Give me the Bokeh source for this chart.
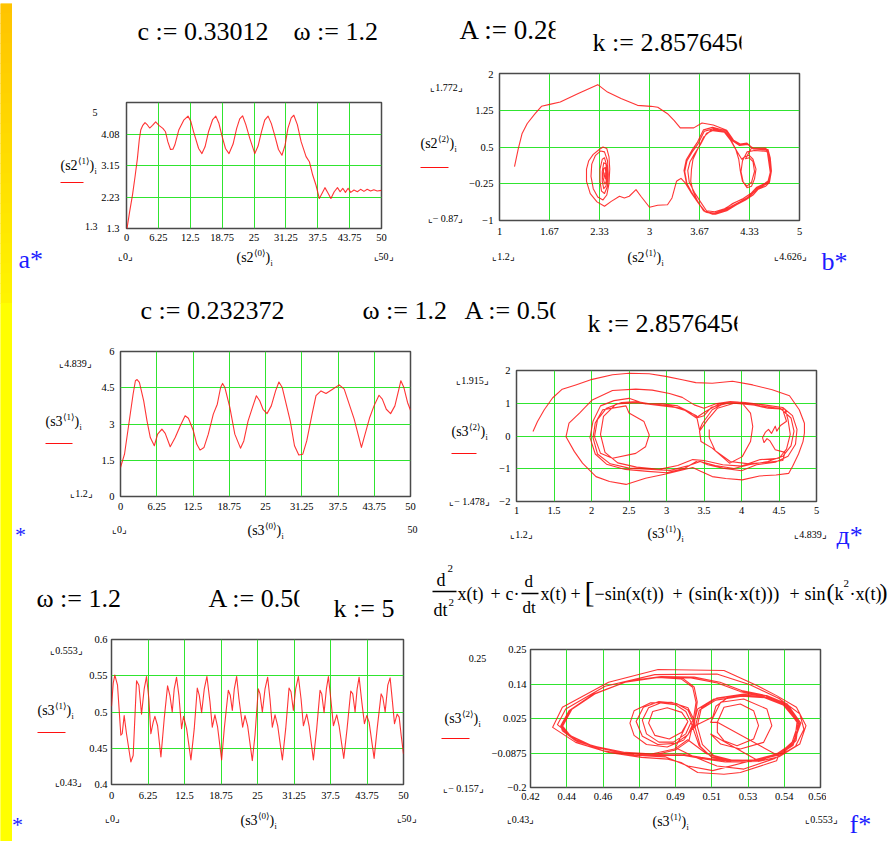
from bokeh.plotting import figure
from bokeh.models import Range1d, FixedTicker, ColumnDataSource
from bokeh.core.properties import value
from bokeh.layouts import row, column
from bokeh.embed import file_html
from bokeh.resources import INLINE

SERIF = "Liberation Serif"
RED = "#ff1010"
GREEN = "#30e430"
BLUE = "#1c1cff"

# ---------------------------------------------------------------
# Run 1:  c = 0.33012, omega = 1.2, A = 0.28, k = 2.8576456
# ---------------------------------------------------------------
a_t = [0, 0.6, 1.17, 1.7, 2.14, 2.5, 2.79, 3.2, 3.63, 4.1, 4.54, 5.1, 5.71, 6.36, 7.13,
       7.65, 8.1, 8.63, 9.1, 9.47, 10.25, 11.22, 12.06, 12.6, 13.16, 14.14, 14.79, 15.4,
       16.08, 16.9, 17.51, 18.1, 18.68, 19.4, 20.1, 20.9, 21.6, 22.2, 22.76, 23.4, 24.19,
       25.16, 25.8, 26.46, 27.1, 27.76, 28.4, 29.05, 29.8, 30.48, 31.1, 31.65, 32.3, 32.81,
       33.5, 34.24, 35.21, 35.86, 36.51, 37.16, 37.81, 38.33, 38.91, 39.56, 40.08, 40.73,
       41.37, 41.89, 42.41, 42.93, 43.45, 43.97, 44.6, 45.27, 45.9, 46.56, 47.2, 47.86,
       48.5, 49.16, 50]
a_x = [1.2, 1.78, 2.28, 2.85, 3.36, 3.90, 4.19, 4.33, 4.41, 4.34, 4.25, 4.33, 4.43, 4.33,
       4.24, 4.14, 3.85, 3.62, 3.63, 3.75, 4.19, 4.48, 4.60, 4.45, 4.14, 3.65, 3.50, 3.70,
       4.14, 4.50, 4.60, 4.40, 4.04, 3.65, 3.50, 3.78, 4.24, 4.52, 4.61, 4.35, 3.94, 3.50,
       3.72, 4.14, 4.48, 4.60, 4.38, 4.04, 3.62, 3.45, 3.75, 4.24, 4.55, 4.626, 4.35, 3.85,
       3.41, 3.26, 2.87, 2.57, 2.18, 2.33, 2.50, 2.33, 2.18, 2.38, 2.50, 2.38, 2.48, 2.36,
       2.48, 2.36, 2.43, 2.38, 2.45, 2.39, 2.45, 2.40, 2.44, 2.40, 2.42]

# phase plane (x, x')
b_arc = [(1.20, 0.10), (1.25, 0.46), (1.30, 0.77), (1.37, 0.98), (1.48, 1.19), (1.56, 1.33),
         (1.67, 1.37), (1.81, 1.42), (2.05, 1.59), (2.31, 1.772), (2.44, 1.62), (2.62, 1.49),
         (2.84, 1.35), (3.02, 1.33), (3.11, 1.31), (3.24, 1.18), (3.33, 1.04), (3.41, 0.89),
         (3.59, 0.89), (3.70, 0.99), (3.85, 0.95)]
b_right_1 = [(4.03, 0.84), (4.12, 0.64), (4.21, 0.56), (4.30, 0.58), (4.38, 0.47), (4.58, 0.45),
             (4.61, 0.28), (4.626, 0.01), (4.60, -0.22), (4.55, -0.30), (4.45, -0.36),
             (4.38, -0.48), (4.28, -0.58), (4.16, -0.68), (4.03, -0.80), (3.88, -0.87),
             (3.75, -0.83), (3.66, -0.66), (3.57, -0.45), (3.50, -0.25), (3.47, 0.0),
             (3.50, 0.22), (3.57, 0.40), (3.65, 0.57), (3.73, 0.82), (3.85, 0.87), (4.01, 0.81)]
b_right_2 = [(4.10, 0.60), (4.17, 0.40), (4.23, 0.25), (4.27, 0.30), (4.33, 0.33), (4.38, 0.25),
             (4.42, 0.05), (4.40, -0.15), (4.36, -0.30), (4.30, -0.33), (4.25, -0.22),
             (4.22, 0.0), (4.24, 0.22), (4.30, 0.40), (4.40, 0.43), (4.57, 0.41), (4.59, 0.20),
             (4.61, -0.02), (4.58, -0.20), (4.52, -0.26), (4.42, -0.34), (4.36, -0.44),
             (4.25, -0.55), (4.12, -0.65), (4.00, -0.76), (3.87, -0.82), (3.76, -0.80),
             (3.68, -0.62), (3.60, -0.43), (3.53, -0.22), (3.51, 0.02), (3.54, 0.20),
             (3.60, 0.36), (3.68, 0.55), (3.76, 0.78), (3.87, 0.85), (4.02, 0.79)]
b_right_3 = [(4.11, 0.62), (4.20, 0.53), (4.31, 0.55), (4.40, 0.46), (4.56, 0.46), (4.60, 0.27),
             (4.62, 0.0), (4.59, -0.21), (4.50, -0.28), (4.40, -0.38), (4.32, -0.52),
             (4.20, -0.62), (4.08, -0.72), (3.95, -0.82), (3.84, -0.87), (3.72, -0.80),
             (3.64, -0.60), (3.58, -0.40), (3.55, -0.20), (3.56, 0.05), (3.58, 0.25),
             (3.64, 0.45), (3.72, 0.70), (3.82, 0.84), (4.00, 0.80)]
b_right_4 = [(4.08, 0.64), (4.15, 0.45), (4.19, 0.25), (4.21, 0.02), (4.24, -0.20), (4.30, -0.30),
             (4.36, -0.22), (4.40, 0.0), (4.38, 0.20), (4.33, 0.28), (4.28, 0.26), (4.36, 0.48),
             (4.55, 0.48), (4.59, 0.30), (4.62, 0.03), (4.59, -0.18), (4.54, -0.24),
             (4.43, -0.32), (4.35, -0.45), (4.24, -0.56), (4.10, -0.66), (3.98, -0.79),
             (3.86, -0.85), (3.74, -0.82), (3.65, -0.64), (3.56, -0.42), (3.49, -0.22),
             (3.46, 0.02), (3.49, 0.24), (3.56, 0.42), (3.64, 0.60), (3.72, 0.85), (3.84, 0.90),
             (4.02, 0.83), (4.12, 0.62)]
b_right_5 = [(4.21, 0.55), (4.30, 0.57), (4.38, 0.46), (4.57, 0.44), (4.61, 0.26), (4.62, 0.0),
             (4.60, -0.21), (4.53, -0.28), (4.43, -0.37), (4.36, -0.47), (4.26, -0.58),
             (4.13, -0.69), (4.00, -0.80), (3.86, -0.86), (3.73, -0.81), (3.64, -0.62),
             (3.55, -0.42), (3.47, -0.22), (3.42, -0.14), (3.39, -0.17)]
b_escape = [(3.36, -0.20), (3.30, -0.54), (3.24, -0.68), (3.11, -0.69), (3.00, -0.73),
            (2.885, -0.505), (2.82, -0.37), (2.73, -0.505), (2.665, -0.54), (2.60, -0.505),
            (2.49, -0.61), (2.40, -0.71)]
b_left = [(2.30, -0.62), (2.21, -0.45), (2.16, -0.20), (2.16, 0.05), (2.19, 0.22), (2.25, 0.35),
          (2.33, 0.45), (2.38, 0.50), (2.43, 0.47), (2.46, 0.30), (2.47, 0.05), (2.46, -0.25),
          (2.43, -0.48), (2.38, -0.58), (2.31, -0.52), (2.25, -0.35), (2.22, -0.10),
          (2.23, 0.15), (2.28, 0.33), (2.35, 0.42), (2.40, 0.40), (2.44, 0.22), (2.45, -0.05),
          (2.44, -0.30), (2.40, -0.45), (2.36, -0.40), (2.34, -0.20), (2.34, 0.05), (2.37, 0.25),
          (2.40, 0.28), (2.43, 0.12), (2.44, -0.10), (2.42, -0.30), (2.39, -0.35), (2.37, -0.20),
          (2.37, 0.0), (2.39, 0.18), (2.42, 0.15), (2.43, -0.05), (2.42, -0.22), (2.40, -0.25),
          (2.38, -0.12), (2.39, 0.06), (2.41, 0.08), (2.42, -0.05), (2.41, -0.15), (2.40, -0.10),
          (2.405, -0.02)]
b_path = b_arc + b_right_1 + b_right_2 + b_right_3 + b_right_4 + b_right_5 + b_escape + b_left

# ---------------------------------------------------------------
# Run 2:  c = 0.232372, omega = 1.2, A = 0.50, k = 2.8576456
# ---------------------------------------------------------------
c_t = [0, 0.69, 1.43, 2.17, 2.57, 2.86, 3.26, 4.0, 4.57, 5.14, 5.83, 6.4, 7.14, 7.71, 8.57,
       9.43, 10.29, 11.14, 11.71, 12.57, 13.14, 13.71, 14.4, 15.14, 16.0, 16.69, 17.26, 17.6,
       18.0, 18.86, 19.71, 20.69, 21.26, 22.0, 22.74, 23.43, 24.0, 24.57, 25.26, 26.0, 26.74,
       27.31, 27.89, 28.57, 29.26, 30.0, 30.74, 31.43, 32.11, 33.03, 33.71, 34.57, 35.43,
       36.57, 37.71, 38.57, 39.43, 40.29, 41.03, 41.54, 42.17, 42.97, 43.71, 44.57, 45.14,
       45.83, 46.57, 47.31, 48.0, 48.34, 48.86, 49.49, 50]
c_x = [1.2, 1.75, 2.99, 4.23, 4.79, 4.839, 4.72, 3.96, 3.13, 2.44, 2.10, 2.58, 2.79, 2.61, 2.06,
       2.44, 2.92, 3.34, 3.24, 2.72, 2.17, 1.92, 2.03, 2.58, 3.41, 3.82, 4.51, 4.68, 4.51, 3.68,
       2.58, 2.0, 2.30, 3.13, 3.68, 4.17, 3.96, 3.61, 3.43, 3.75, 4.37, 4.74, 4.51, 3.82, 3.13,
       2.10, 1.72, 1.75, 2.30, 3.41, 4.17, 4.37, 4.26, 4.44, 4.62, 4.44, 3.82, 3.2, 2.51, 2.03,
       2.58, 3.27, 3.75, 4.19, 4.03, 3.61, 3.43, 3.75, 4.44, 4.79, 4.51, 3.89, 3.57]

d_arc = [(1.22, 0.14), (1.28, 0.44), (1.37, 0.80), (1.48, 1.16), (1.61, 1.43), (1.79, 1.56),
         (2.01, 1.73), (2.28, 1.87), (2.50, 1.915), (2.77, 1.90), (2.99, 1.82), (3.21, 1.72),
         (3.39, 1.63), (3.61, 1.61), (3.88, 1.67), (4.15, 1.56), (4.41, 1.41), (4.64, 1.23),
         (4.77, 0.80), (4.839, 0.39), (4.839, 0.09), (4.82, -0.17), (4.76, -0.55), (4.68, -0.93),
         (4.63, -1.14), (4.46, -1.19), (4.24, -1.22), (4.01, -1.34), (3.79, -1.30), (3.61, -1.24),
         (3.44, -1.06), (3.35, -0.96), (3.17, -1.06), (2.99, -1.16), (2.72, -1.29), (2.46, -1.478),
         (2.24, -1.39), (2.06, -1.24), (1.88, -0.83), (1.77, -0.47), (1.66, -0.02)]
d_loop_2 = [(1.70, 0.39), (1.84, 0.70), (2.01, 1.10), (2.28, 1.39), (2.59, 1.43), (2.81, 1.40),
            (3.04, 1.30), (3.21, 1.18), (3.37, 0.95), (3.50, 0.85), (3.65, 0.98), (3.85, 1.05),
            (4.05, 1.02), (4.30, 0.95), (4.55, 0.87), (4.68, 0.62), (4.74, 0.20), (4.72, -0.25),
            (4.62, -0.62), (4.45, -0.80), (4.20, -0.88), (4.00, -1.06), (3.75, -0.98),
            (3.55, -0.88), (3.42, -0.75), (3.25, -0.98), (3.00, -1.12), (2.75, -1.08),
            (2.45, -1.02), (2.20, -0.86), (2.05, -0.55), (1.98, -0.05), (2.02, 0.45), (2.12, 0.92)]
d_both_1 = [(2.30, 1.08), (2.50, 1.15), (2.72, 0.98), (2.95, 0.98), (3.15, 0.92), (3.32, 0.72),
            (3.41, 0.58), (3.52, 0.75), (3.70, 0.98), (3.95, 1.04), (4.25, 0.92), (4.52, 0.84),
            (4.66, 0.55), (4.70, 0.15), (4.66, -0.30), (4.55, -0.62), (4.35, -0.78), (4.10, -0.88),
            (3.90, -0.99), (3.65, -0.90), (3.45, -0.78), (3.30, -0.90), (3.05, -1.05),
            (2.80, -1.02), (2.50, -0.98), (2.25, -0.85), (2.08, -0.55), (2.02, -0.05),
            (2.05, 0.40), (2.15, 0.80)]
d_left = [(2.28, 0.85), (2.46, 0.92), (2.50, 0.70), (2.70, 0.44), (2.77, 0.03), (2.72, -0.33),
          (2.59, -0.53), (2.28, -0.68), (2.12, -0.53), (2.04, -0.02), (2.08, 0.50), (2.20, 0.85)]
d_both_2 = [(2.40, 1.02), (2.60, 1.05), (2.85, 0.95), (3.05, 0.92), (3.25, 0.78), (3.40, 0.55),
            (3.50, 0.62), (3.60, 0.88), (3.85, 1.02), (4.10, 0.98), (4.35, 0.85), (4.58, 0.82),
            (4.62, 0.50), (4.65, 0.05), (4.60, -0.40), (4.50, -0.68), (4.25, -0.72),
            (4.00, -0.92), (3.75, -0.88), (3.50, -0.75), (3.35, -0.72), (3.15, -0.90),
            (2.90, -1.02), (2.60, -0.95), (2.35, -0.82), (2.18, -0.50), (2.12, 0.05),
            (2.16, 0.60), (2.33, 0.98), (2.60, 1.02), (2.90, 0.93), (3.20, 0.85), (3.40, 0.62)]
d_right = [(3.44, 0.19), (3.48, 0.39), (3.61, 0.80), (3.79, 1.02), (4.01, 1.00), (4.12, 0.70),
           (4.15, 0.29), (4.12, -0.17), (4.01, -0.63), (3.84, -0.83), (3.61, -0.37),
           (3.46, -0.17), (3.44, 0.15)]
d_right_2 = [(3.55, 0.50), (3.68, 0.85), (3.90, 1.00), (4.15, 0.95), (4.40, 0.88), (4.55, 0.80),
             (4.60, 0.45), (4.52, 0.32), (4.47, 0.15), (4.45, 0.30), (4.40, 0.08), (4.36, 0.20),
             (4.32, 0.12), (4.28, -0.05), (4.30, -0.20), (4.34, -0.08), (4.38, -0.15),
             (4.45, -0.42), (4.58, -0.50), (4.55, -0.75), (4.35, -0.80), (4.10, -0.85),
             (3.85, -0.78), (3.65, -0.45), (3.57, -0.05), (3.57, 0.20)]
d_path = d_arc + d_loop_2 + d_both_1 + d_left + d_both_2 + d_right + d_right_2

# ---------------------------------------------------------------
# Run 3:  omega = 1.2, A = 0.50, k = 5
# ---------------------------------------------------------------
e_pts = [(0.0, 0.508), (0.3, 0.54), (0.57, 0.551), (1.03, 0.537), (1.6, 0.468), (1.83, 0.470),
         (2.17, 0.495), (2.57, 0.470), (3.31, 0.431), (3.71, 0.440), (4.29, 0.543), (4.69, 0.537),
         (5.14, 0.497), (5.6, 0.532), (6.0, 0.549), (6.4, 0.518), (6.74, 0.470), (7.14, 0.486),
         (7.43, 0.494), (7.89, 0.481), (8.46, 0.438), (9.03, 0.491), (9.6, 0.536), (10.0, 0.523),
         (10.4, 0.500), (10.74, 0.532), (11.14, 0.548), (11.54, 0.523), (12.0, 0.477),
         (12.34, 0.494), (12.86, 0.477), (13.6, 0.434), (14.17, 0.477), (14.69, 0.533),
         (15.03, 0.523), (15.43, 0.499), (15.89, 0.532), (16.34, 0.549), (16.86, 0.514),
         (17.26, 0.479), (17.71, 0.496), (18.17, 0.479), (18.86, 0.434), (19.31, 0.477),
         (20.0, 0.530), (20.34, 0.523), (20.69, 0.502), (21.03, 0.532), (21.43, 0.549),
         (21.83, 0.518), (22.46, 0.479), (22.86, 0.495), (23.31, 0.481), (24.11, 0.433),
         (24.57, 0.468), (25.14, 0.532), (25.43, 0.525), (25.83, 0.500), (26.29, 0.532),
         (26.74, 0.548), (27.14, 0.518), (27.54, 0.479), (28.0, 0.496), (28.46, 0.481),
         (29.26, 0.434), (29.83, 0.477), (30.4, 0.533), (30.74, 0.528), (31.14, 0.502),
         (31.54, 0.532), (32.0, 0.549), (32.46, 0.518), (32.86, 0.481), (33.43, 0.497),
         (33.83, 0.481), (34.57, 0.434), (35.14, 0.477), (35.71, 0.530), (36.0, 0.525),
         (36.4, 0.499), (36.8, 0.532), (37.14, 0.549), (37.6, 0.514), (38.0, 0.481),
         (38.57, 0.496), (38.97, 0.481), (39.77, 0.436), (40.34, 0.477), (40.97, 0.529),
         (41.31, 0.525), (41.71, 0.500), (42.06, 0.532), (42.4, 0.548), (42.86, 0.514),
         (43.31, 0.484), (43.71, 0.495), (44.11, 0.486), (44.97, 0.436), (45.49, 0.477),
         (46.17, 0.525), (46.46, 0.520), (46.86, 0.500), (47.31, 0.537), (47.71, 0.547),
         (48.11, 0.514), (48.46, 0.484), (48.91, 0.497), (49.26, 0.493), (49.6, 0.468),
         (50.0, 0.442)]

f_start = [(0.508, 0.030), (0.5095, 0.065), (0.5150, 0.092), (0.5230, 0.100), (0.5340, 0.095),
           (0.5440, 0.068), (0.5500, 0.008), (0.5465, -0.060), (0.5390, -0.094)]
f_right_a = [(0.5293, -0.1106), (0.5166, -0.1128), (0.5070, -0.0987), (0.5014, -0.0638),
             (0.4983, -0.0039), (0.5007, 0.0561), (0.5086, 0.0887), (0.5213, 0.1018),
             (0.5325, 0.0974), (0.5428, 0.0692), (0.5492, 0.0070), (0.5460, -0.0584),
             (0.5388, -0.0910)]
f_right_b = [(0.5300, -0.1150), (0.5170, -0.1170), (0.5075, -0.1020), (0.5020, -0.0660),
             (0.4995, -0.0050), (0.5015, 0.0520), (0.5095, 0.0850), (0.5220, 0.0980),
             (0.5330, 0.0930), (0.5435, 0.0650), (0.5500, 0.0050), (0.5468, -0.0620),
             (0.5395, -0.0950)]
f_right_c = [(0.5305, -0.1100), (0.5180, -0.1120), (0.5085, -0.0960), (0.5030, -0.0600),
             (0.5005, 0.0000), (0.5025, 0.0600), (0.5100, 0.0920), (0.5230, 0.1050),
             (0.5340, 0.1000), (0.5440, 0.0720), (0.5505, 0.0100), (0.5470, -0.0560),
             (0.5400, -0.0900)]
f_big_a = [(0.5293, -0.1106), (0.5134, -0.1128), (0.5022, -0.1019), (0.4927, -0.0910),
           (0.4816, -0.0921), (0.4657, -0.0856), (0.4497, -0.0638), (0.4386, -0.0289),
           (0.4346, 0.0016), (0.4386, 0.0506), (0.4497, 0.1018), (0.4657, 0.1432),
           (0.4816, 0.1596), (0.4975, 0.1574), (0.5102, 0.1410), (0.5213, 0.1127),
           (0.5325, 0.0974), (0.5420, 0.0692), (0.5487, 0.0147), (0.5476, -0.0442),
           (0.5412, -0.0834)]
f_big_b = [(0.5300, -0.1150), (0.5140, -0.1170), (0.5030, -0.1060), (0.4935, -0.0950),
           (0.4820, -0.0960), (0.4660, -0.0890), (0.4505, -0.0670), (0.4395, -0.0330),
           (0.4355, 0.0000), (0.4400, 0.0550), (0.4510, 0.1050), (0.4670, 0.1470),
           (0.4830, 0.1620), (0.4990, 0.1600), (0.5115, 0.1430), (0.5225, 0.1150),
           (0.5335, 0.1000), (0.5430, 0.0720), (0.5495, 0.0170), (0.5482, -0.0470),
           (0.5420, -0.0880)]
f_outer_a = [(0.5388, -0.1128), (0.5213, -0.1510), (0.5134, -0.1570), (0.5007, -0.1510),
             (0.4927, -0.1183), (0.4863, -0.1074), (0.4736, -0.1019), (0.4577, -0.0856),
             (0.4418, -0.0529), (0.4307, -0.0039), (0.4354, 0.0615), (0.4577, 0.1432),
             (0.4816, 0.1846), (0.5134, 0.1814), (0.5293, 0.1323), (0.5388, 0.0996),
             (0.5484, 0.0615), (0.5530, 0.0016), (0.5500, -0.0583), (0.5400, -0.1000)]
f_to_left = [(0.5300, -0.1120), (0.5150, -0.1100), (0.5050, -0.0900)]
f_left_a = [(0.4959, -0.0442), (0.4895, -0.0747), (0.4784, -0.0910), (0.4657, -0.0856),
            (0.4529, -0.0692), (0.4418, -0.0474), (0.4354, -0.0148), (0.4346, 0.0016),
            (0.4386, 0.0506), (0.4497, 0.1018), (0.4657, 0.1432), (0.4816, 0.1585),
            (0.4927, 0.1541), (0.4983, 0.1269), (0.4999, 0.0778), (0.4988, 0.0288),
            (0.4983, -0.0039)]
f_left_b = [(0.4965, -0.0470), (0.4900, -0.0780), (0.4790, -0.0950), (0.4660, -0.0900),
            (0.4535, -0.0720), (0.4425, -0.0500), (0.4362, -0.0170), (0.4352, 0.0030),
            (0.4395, 0.0540), (0.4505, 0.1050), (0.4665, 0.1460), (0.4825, 0.1610),
            (0.4935, 0.1560), (0.4990, 0.1280), (0.5005, 0.0790), (0.4995, 0.0300),
            (0.4990, -0.0060)]
f_mid_a = [(0.4975, 0.0125), (0.4950, 0.0480), (0.4900, 0.0700), (0.4830, 0.0760),
           (0.4770, 0.0600), (0.4740, 0.0200), (0.4760, -0.0250), (0.4820, -0.0520),
           (0.4890, -0.0520), (0.4950, -0.0250), (0.4975, 0.0125)]
f_mid_b = [(0.4985, 0.0150), (0.4960, 0.0530), (0.4905, 0.0740), (0.4820, 0.0800),
           (0.4745, 0.0620), (0.4710, 0.0150), (0.4740, -0.0330), (0.4815, -0.0600),
           (0.4900, -0.0560), (0.4960, -0.0280), (0.4985, 0.0100)]
f_mid_c = [(0.4990, 0.0200), (0.4960, 0.0600), (0.4880, 0.0780), (0.4780, 0.0760),
           (0.4700, 0.0500), (0.4680, 0.0100), (0.4700, -0.0300), (0.4760, -0.0600),
           (0.4860, -0.0680), (0.4940, -0.0450), (0.4990, 0.0000)]
f_mid_d = [(0.4960, 0.0150), (0.4930, 0.0450), (0.4860, 0.0600), (0.4790, 0.0480),
           (0.4770, 0.0100), (0.4800, -0.0300), (0.4870, -0.0420), (0.4930, -0.0200),
           (0.4960, 0.0150)]
f_inner_a = [(0.5102, 0.0125), (0.5134, 0.0615), (0.5213, 0.0724), (0.5277, 0.0506),
             (0.5301, 0.0016), (0.5277, -0.0420), (0.5197, -0.0638), (0.5134, -0.0474),
             (0.5102, -0.0202), (0.5102, 0.0125)]
f_inner_b = [(0.5070, 0.0125), (0.5118, 0.0778), (0.5229, 0.0887), (0.5341, 0.0561),
             (0.5365, 0.0016), (0.5325, -0.0529), (0.5213, -0.0747), (0.5118, -0.0583),
             (0.5070, -0.0256)]
f_outer_b = [(0.5080, -0.1450), (0.4960, -0.1300), (0.4850, -0.1000), (0.4700, -0.0950),
             (0.4550, -0.0800), (0.4420, -0.0450), (0.4330, 0.0050), (0.4370, 0.0560),
             (0.4560, 0.1300), (0.4800, 0.1680), (0.5100, 0.1700), (0.5260, 0.1350),
             (0.5400, 0.0900), (0.5500, 0.0400), (0.5520, -0.0100), (0.5480, -0.0650),
             (0.5380, -0.1050), (0.5230, -0.1400)]
f_end = [(0.5100, -0.1300), (0.4990, -0.1000), (0.4900, -0.0700)]
f_path = (f_start + f_right_a + f_right_b + f_big_a + f_right_c + f_outer_a + f_big_b
          + f_to_left + f_left_a + f_mid_a + f_mid_b + f_left_b + f_mid_c + f_start
          + f_inner_a + f_inner_b + f_right_a + f_outer_b + f_end + f_mid_d)

# axis ticks and their printed labels
ticks_t = [0, 6.25, 12.5, 18.75, 25, 31.25, 37.5, 43.75, 50]
labels_t = ["0", "6.25", "12.5", "18.75", "25", "31.25", "37.5", "43.75", "50"]
a_yticks = [1.3, 2.225, 3.15, 4.075, 5]
a_ylabels = ["1.3", "2.23", "3.15", "4.08", ""]
b_xticks = [1, 5 / 3, 7 / 3, 3, 11 / 3, 13 / 3, 5]
b_xlabels = ["1", "1.67", "2.33", "3", "3.67", "4.33", "5"]
b_yticks = [-1, -0.25, 0.5, 1.25, 2]
b_ylabels = ["\u22121", "\u22120.25", "0.5", "1.25", "2"]
c_yticks = [0, 1.5, 3, 4.5, 6]
c_ylabels = ["0", "1.5", "3", "4.5", "6"]
d_xticks = [1, 1.5, 2, 2.5, 3, 3.5, 4, 4.5, 5]
d_xlabels = ["1", "1.5", "2", "2.5", "3", "3.5", "4", "4.5", "5"]
d_yticks = [-2, -1, 0, 1, 2]
d_ylabels = ["\u22122", "\u22121", "0", "1", "2"]
e_yticks = [0.4, 0.45, 0.5, 0.55, 0.6]
e_ylabels = ["0.4", "0.45", "0.5", "0.55", "0.6"]
f_xticks = [0.42, 0.4375, 0.455, 0.4725, 0.49, 0.5075, 0.525, 0.5425, 0.56]
f_xlabels = ["0.42", "0.44", "0.46", "0.47", "0.49", "0.51", "0.53", "0.54", "0.56"]
f_yticks = [-0.2, -0.0875, 0.025, 0.1375, 0.25]
f_ylabels = ["\u22120.2", "\u22120.0875", "0.025", "0.14", "0.25"]

# ---------------------------------------------------------------
# page texts (page pixels, y downwards): text, x, y, size, colour, align
# ---------------------------------------------------------------
texts = [
    ("c := 0.33012", 137, 31, 26, "black", "left"),
    ("\u03c9 := 1.2", 293, 31, 26, "black", "left"),
    ("A := 0.28", 459, 29, 27, "black", "left"),
    ("k := 2.8576456", 592, 42, 26, "black", "left"),
    ("5", 97, 112, 10, "black", "right"),
    ("1.3", 97, 226, 10, "black", "right"),
    ("\u231e0\u231f", 125, 256, 10, "black", "center"),
    ("\u231e50\u231f", 383, 256, 10, "black", "center"),
    ("a*", 18, 259, 26, BLUE, "left"),
    ("\u231e1.772\u231f", 446, 87, 10, "black", "center"),
    ("\u231e\u2212 0.87\u231f", 445, 218, 10, "black", "center"),
    ("\u231e1.2\u231f", 503, 256, 10, "black", "center"),
    ("\u231e4.626\u231f", 790, 256, 10, "black", "center"),
    ("b*", 821, 261, 26, BLUE, "left"),
    ("c := 0.232372", 140, 310, 26, "black", "left"),
    ("\u03c9 := 1.2", 362, 310, 26, "black", "left"),
    ("A := 0.50", 464, 310, 26, "black", "left"),
    ("k := 2.8576456", 587, 323, 26, "black", "left"),
    ("\u231e4.839\u231f", 75, 363, 10, "black", "center"),
    ("\u231e1.2\u231f", 81, 493, 10, "black", "center"),
    ("\u231e0\u231f", 119, 529, 10, "black", "center"),
    ("50", 412, 529, 10, "black", "center"),
    ("*", 20, 534, 22, BLUE, "center"),
    ("\u231e1.915\u231f", 472, 380, 10, "black", "center"),
    ("\u231e\u2212 1.478\u231f", 469, 501, 10, "black", "center"),
    ("\u231e1.2\u231f", 521, 534, 10, "black", "center"),
    ("\u231e4.839\u231f", 810, 534, 10, "black", "center"),
    ("\u0434*", 836, 535, 26, BLUE, "left"),
    ("\u03c9 := 1.2", 36, 598, 26, "black", "left"),
    ("A := 0.50", 208, 598, 26, "black", "left"),
    ("k := 5", 333, 608, 26, "black", "left"),
    ("\u231e0.553\u231f", 66, 650, 10, "black", "center"),
    ("\u231e0.43\u231f", 68, 782, 10, "black", "center"),
    ("\u231e0\u231f", 112, 818, 10, "black", "center"),
    ("\u231e50\u231f", 406, 818, 10, "black", "center"),
    ("*", 17, 824, 22, BLUE, "center"),
    ("0.25", 477, 658, 10, "black", "center"),
    ("\u231e\u2212 0.157\u231f", 463, 788, 10, "black", "center"),
    ("\u231e0.43\u231f", 520, 819, 10, "black", "center"),
    ("\u231e0.553\u231f", 821, 819, 10, "black", "center"),
    ("f*", 849, 824, 26, BLUE, "left"),
    # equation of motion
    ("d", 436, 579, 18, "black", "left"), ("2", 447, 568, 11, "black", "left"),
    ("dt", 433, 609, 18, "black", "left"), ("2", 448, 602, 11, "black", "left"),
    ("x(t)", 457, 593, 18, "black", "left"), ("+", 490, 593, 18, "black", "left"),
    ("c\u00b7", 505, 593, 18, "black", "left"), ("d", 524, 581, 17, "black", "left"),
    ("dt", 522, 607, 17, "black", "left"), ("x(t)", 540, 593, 18, "black", "left"),
    ("+", 570, 593, 18, "black", "left"), ("[", 584, 591, 30, "black", "left"),
    ("\u2212sin(x(t))", 594, 593, 18, "black", "left"), ("+", 672, 593, 18, "black", "left"),
    ("(sin(k\u00b7x(t)))", 688, 593, 19, "black", "left"), ("+", 789, 593, 18, "black", "left"),
    ("sin", 804, 593, 18, "black", "left"), ("(", 826, 591, 24, "black", "left"),
    ("k", 834, 593, 18, "black", "left"), ("2", 843, 583, 11, "black", "left"),
    ("\u00b7x(t)", 849, 593, 18, "black", "left"), (")", 879, 591, 24, "black", "left"),
]

# "(name<idx>)_i" axis captions: name, idx, x, y
captions = [("s2", "1", 60, 165), ("s2", "0", 236, 257), ("s2", "2", 420, 143),
            ("s2", "1", 627, 257), ("s3", "1", 45, 421), ("s3", "0", 247, 530),
            ("s3", "2", 451, 431), ("s3", "1", 647, 533), ("s3", "1", 37, 710),
            ("s3", "0", 240, 820), ("s3", "2", 444, 718), ("s3", "1", 652, 821)]
for name, idx, X, Y in captions:
    texts += [("(" + name, X, Y, 14, "black", "left"),
              ("\u27e8" + idx + "\u27e9", X + 17, Y - 5, 9, "black", "left"),
              (")", X + 29, Y, 14, "black", "left"),
              ("i", X + 34, Y + 6, 8, "black", "left")]

# short rules: red legend keys and fraction bars (x0, x1, y, colour, width)
rules = [(60, 83, 182, RED, 1), (420, 448, 167, RED, 1), (45, 72, 443, RED, 1),
         (451, 476, 453, RED, 1), (37, 65, 732, RED, 1), (441, 469, 738, RED, 1),
         (432, 456, 591, "black", 1.3), (521, 538, 593, "black", 1.3)]
# white masks that cut off the clipped assignment regions (x0, x1, y0, y1)
masks = [(555, 590, 10, 48), (741, 830, 24, 62), (555, 585, 292, 329),
         (737, 830, 304, 343), (299, 330, 579, 617)]


def text_panel(x0, y0, x1, y1):
    p = figure(width=x1 - x0, height=y1 - y0, output_backend="svg", toolbar_location=None,
               title=None, x_range=Range1d(x0, x1), y_range=Range1d(y1, y0),
               x_axis_location=None, y_axis_location=None, min_border=0,
               outline_line_color=None)
    p.grid.visible = False
    p.background_fill_color = "white"
    p.border_fill_color = "white"
    mine = [t for t in texts if x0 <= t[1] < x1 and y0 <= t[2] < y1]
    if mine:
        src = ColumnDataSource(dict(
            x=[t[1] for t in mine], y=[t[2] for t in mine], text=[t[0] for t in mine],
            tsize=["%dpx" % t[3] for t in mine], tcolor=[t[4] for t in mine],
            talign=[t[5] for t in mine]))
        p.text(x="x", y="y", text="text", source=src, text_font=value(SERIF),
               text_font_size="tsize", text_color="tcolor", text_align="talign",
               text_baseline=value("middle"))
    rl = [r for r in rules if x0 <= r[0] < x1 and y0 <= r[2] < y1]
    if rl:
        src = ColumnDataSource(dict(x0=[r[0] for r in rl], x1=[r[1] for r in rl],
                                    y=[r[2] for r in rl], c=[r[3] for r in rl],
                                    w=[r[4] for r in rl]))
        p.segment(x0="x0", y0="y", x1="x1", y1="y", source=src, line_color="c",
                  line_width="w")
    mk = [m for m in masks if x0 <= m[0] < x1 and y0 <= m[2] < y1]
    if mk:
        src = ColumnDataSource(dict(l=[m[0] for m in mk], r=[m[1] for m in mk],
                                    t=[m[2] for m in mk], b=[m[3] for m in mk]))
        p.quad(left="l", right="r", top="t", bottom="b", source=src, fill_color="white",
               line_color=None)
    return column(p)


def plot_panel(cell, frame, xr, yr, xt, xl, yt, yl, xs=5, ys=6):
    x0, y0, x1, y1 = cell
    fl, ft, fr, fb = frame
    p = figure(width=x1 - x0, height=y1 - y0, output_backend="svg", toolbar_location=None,
               title=None, x_range=Range1d(*xr), y_range=Range1d(*yr),
               min_border_left=fl - x0, min_border_right=x1 - fr,
               min_border_top=ft - y0, min_border_bottom=y1 - fb)
    p.background_fill_color = "white"
    p.border_fill_color = "white"
    p.outline_line_color = "#4a4a4a"
    p.outline_line_width = 1.5
    p.xaxis.ticker = FixedTicker(ticks=xt)
    p.yaxis.ticker = FixedTicker(ticks=yt)
    p.xgrid.ticker = FixedTicker(ticks=xt)
    p.ygrid.ticker = FixedTicker(ticks=yt)
    p.xaxis.major_label_overrides = dict(zip(xt, xl))
    p.yaxis.major_label_overrides = dict(zip(yt, yl))
    for ax in (p.xaxis, p.yaxis):
        ax.axis_line_color = None
        ax.major_tick_in = 0
        ax.major_tick_out = 0
        ax.minor_tick_in = 0
        ax.minor_tick_out = 0
        ax.major_label_text_font = SERIF
        ax.major_label_text_font_size = "10.5px"
        ax.major_label_text_color = "black"
    p.xaxis.major_label_standoff = xs
    p.yaxis.major_label_standoff = ys
    for g in (p.xgrid, p.ygrid):
        g.grid_line_color = GREEN
        g.grid_line_width = 1
    return p


def trace(p, x, y):
    p.line(x, y, line_color=RED, line_width=1.1, line_alpha=0.85, line_join="round")
    return column(p)


# ---------------- row 1 ----------------
pa = plot_panel((98, 70, 392, 245), (124, 102, 381, 228), (0, 50), (1.3, 5),
                ticks_t, labels_t, a_yticks, a_ylabels, ys=7)
pb = plot_panel((466, 70, 806, 245), (496, 73, 799, 220), (1, 5), (-1, 2),
                b_xticks, b_xlabels, b_yticks, b_ylabels, xs=7, ys=6)
row1 = column(text_panel(12, 3, 888, 70),
              row(text_panel(12, 70, 98, 245), trace(pa, a_t, a_x),
                  text_panel(392, 70, 466, 245),
                  trace(pb, [q[0] for q in b_path], [q[1] for q in b_path]),
                  text_panel(806, 70, 888, 245)),
              text_panel(12, 245, 888, 283))

# ---------------- row 2 ----------------
pc = plot_panel((98, 345, 420, 520), (119, 351, 410, 496), (0, 50), (0, 6),
                ticks_t, labels_t, c_yticks, c_ylabels, xs=6, ys=6)
pd = plot_panel((491, 345, 824, 520), (516, 370, 816, 501), (1, 5), (-2, 2),
                d_xticks, d_xlabels, d_yticks, d_ylabels, ys=6)
row2 = column(text_panel(12, 283, 888, 345),
              row(text_panel(12, 345, 98, 520), trace(pc, c_t, c_x),
                  text_panel(420, 345, 491, 520),
                  trace(pd, [q[0] for q in d_path], [q[1] for q in d_path]),
                  text_panel(824, 345, 888, 520)),
              text_panel(12, 520, 888, 552))

# ---------------- row 3 ----------------
pe = plot_panel((86, 630, 411, 806), (111, 639, 403, 784), (0, 50), (0.4, 0.6),
                ticks_t, labels_t, e_yticks, e_ylabels, xs=7, ys=4)
pf = plot_panel((488, 630, 826, 806), (526, 649, 820, 787), (0.42, 0.56), (-0.2, 0.25),
                f_xticks, f_xlabels, f_yticks, f_ylabels, ys=4)
row3 = column(text_panel(12, 552, 888, 630),
              row(text_panel(12, 630, 86, 806),
                  trace(pe, [q[0] for q in e_pts], [q[1] for q in e_pts]),
                  text_panel(411, 630, 488, 806),
                  trace(pf, [q[0] for q in f_path], [q[1] for q in f_path]),
                  text_panel(826, 630, 888, 806)),
              text_panel(12, 806, 888, 841))


# ---------------- yellow page edges ----------------
def mix(c1, c2, t):
    u = [int(c1[i:i + 2], 16) for i in (1, 3, 5)]
    v = [int(c2[i:i + 2], 16) for i in (1, 3, 5)]
    return "#%02x%02x%02x" % tuple(round(p + (q - p) * t) for p, q in zip(u, v))


top = figure(width=888, height=3, output_backend="svg", toolbar_location=None, title=None,
             x_range=Range1d(0, 888), y_range=Range1d(0, 1), x_axis_location=None,
             y_axis_location=None, min_border=0, outline_line_color=None)
top.grid.visible = False
n = 24
edges = [888 * i / n for i in range(n + 1)]
cols = [mix("#ffc800", "#ffff00", i / (n - 1)) for i in range(n)]
top.quad(left=edges[:-1], right=edges[1:], bottom=0, top=1, fill_color=cols, line_color=cols)

side = figure(width=12, height=838, output_backend="svg", toolbar_location=None, title=None,
              x_range=Range1d(0, 1), y_range=Range1d(838, 0), x_axis_location=None,
              y_axis_location=None, min_border=0, outline_line_color=None)
side.grid.visible = False
m = 30
tops = [300 * i / m for i in range(m)] + [300]
scols = [mix("#ffc400", "#fff400", i / (m - 1)) for i in range(m)] + ["#ffff00"]
bots = tops[1:] + [838]
side.quad(left=0, right=1, top=tops, bottom=bots, fill_color=scols, line_color=scols)

layout = column(top, row(side, column(row1, row2, row3)))
open("out.html", "w", encoding="utf-8").write(file_html(layout, INLINE, title="phase planes"))
